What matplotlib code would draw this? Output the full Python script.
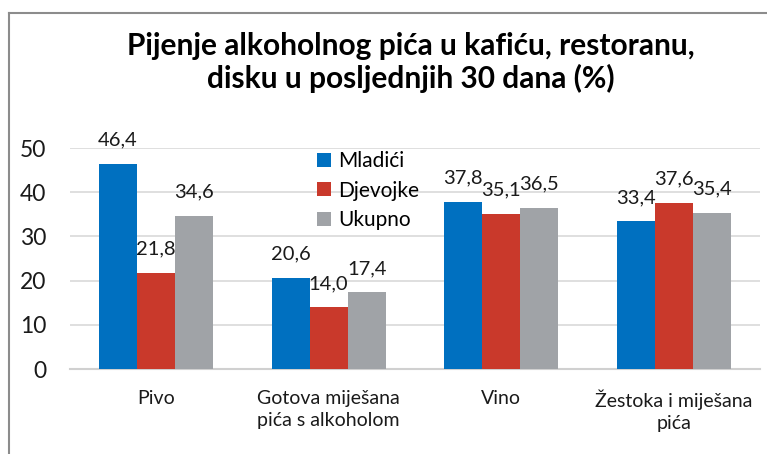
import numpy as np
import matplotlib.pyplot as plt
from matplotlib.lines import Line2D

plt.rcParams['font.family'] = ['Lato', 'DejaVu Sans']

# podaci
kategorije = ['Pivo', 'Gotova miješana\npića s alkoholom', 'Vino', 'Žestoka i miješana\npića']
mladici = [46.4, 20.6, 37.8, 33.4]
djevojke = [21.8, 14.0, 35.1, 37.6]
ukupno = [34.6, 17.4, 36.5, 35.4]

serije = [('Mladići', mladici, '#0070C0'),
          ('Djevojke', djevojke, '#C9392B'),
          ('Ukupno', ukupno, '#A0A3A7')]

fig = plt.figure(figsize=(7.67, 4.54), dpi=100)
ax = fig.add_axes([0.091, 0.187, 0.90, 0.487])

x = np.arange(len(kategorije))
w = 0.22
for i, (ime, vals, boja) in enumerate(serije):
    pos = x + (i - 1) * w
    bars = ax.bar(pos, vals, w, color=boja, label=ime, zorder=3)
    for b, v in zip(bars, vals):
        ax.annotate(f'{v:.1f}'.replace('.', ','),
                    (b.get_x() + b.get_width() / 2, v),
                    xytext=(0, 11), textcoords='offset points',
                    ha='center', va='bottom', fontsize=14.5, color='#1a1a1a')

ax.set_xlim(-0.5, 3.5)
ax.set_ylim(0, 50)
ax.set_yticks(range(0, 51, 10))
ax.yaxis.grid(True, color='#D9D9D9', lw=1.2, zorder=0)
ax.set_xticks(x)
ax.set_xticklabels(kategorije, fontsize=14, color='#1a1a1a', linespacing=1.35)
ax.tick_params(axis='y', length=0, labelsize=16.5, pad=17, labelcolor='#1a1a1a')
ax.tick_params(axis='x', length=0, pad=15)
for s in ['top', 'right', 'left']:
    ax.spines[s].set_visible(False)
ax.spines['bottom'].set_color('#D0D0D0')
ax.spines['bottom'].set_linewidth(1.5)

leg = ax.legend(loc='upper left', bbox_to_anchor=(0.389, 0.708),
                bbox_transform=fig.transFigure, frameon=False,
                fontsize=15, handlelength=0.65, handleheight=0.65,
                handletextpad=0.35, labelspacing=0.45)

fig.suptitle('Pijenje alkoholnog pića u kafiću, restoranu,\ndisku u posljednjih 30 dana (%)',
             x=0.535, y=0.93, fontsize=21.5, fontweight='bold', linespacing=1.15)

# okvir grafikona
fig.add_artist(Line2D([9 / 767, 1], [1 - 13 / 454] * 2, transform=fig.transFigure, color='#8C8C8C', lw=1.5))
fig.add_artist(Line2D([9 / 767] * 2, [0, 1 - 13 / 454], transform=fig.transFigure, color='#8C8C8C', lw=1.5))

fig.savefig('out.png', dpi=100)
